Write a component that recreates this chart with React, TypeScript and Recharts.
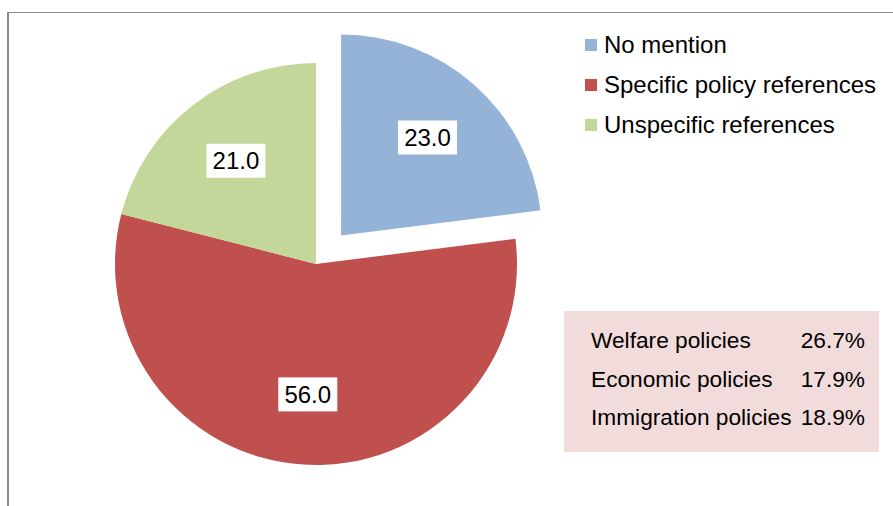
import React from 'react';
import { PieChart, Pie, Cell, Legend } from 'recharts';

const categories = ['No mention', 'Specific policy references', 'Unspecific references'];
const shares = [23.0, 56.0, 21.0];
const colors = ['#95b3d7', '#c0504d', '#c4d79b'];
const explodedIndex = 0;
const policyLabels = ['Welfare policies', 'Economic policies', 'Immigration policies'];
const policyShares = [26.7, 17.9, 18.9];

const data = categories.map((name, i) => ({ name, value: shares[i] }));

const FONT = '"Liberation Sans", Arial, sans-serif';
const CX = 316;
const CY = 264;
const R = 201;
const EXPLODE = 38;
const RAD = Math.PI / 180;

const total = shares.reduce((a, b) => a + b, 0);
const before = shares.slice(0, explodedIndex).reduce((a, b) => a + b, 0);
const explodedMid = 90 - ((before + shares[explodedIndex] / 2) / total) * 360;
const EX = CX + EXPLODE * Math.cos(explodedMid * RAD);
const EY = CY - EXPLODE * Math.sin(explodedMid * RAD);

const makeLabel = (show: (i: number) => boolean) => (props: any) => {
  const { cx, cy, midAngle, outerRadius, value, index } = props;
  if (!show(index)) return null;
  const r = outerRadius * 0.65;
  const x = cx + r * Math.cos(-midAngle * RAD);
  const y = cy + r * Math.sin(-midAngle * RAD);
  return (
    <g>
      <rect x={x - 29.5} y={y - 17} width={59} height={34} fill="#ffffff" />
      <text
        x={x}
        y={y}
        textAnchor="middle"
        dominantBaseline="central"
        fontSize={24}
        fontFamily={FONT}
        fill="#000"
      >
        {Number(value).toFixed(1)}
      </text>
    </g>
  );
};

const LegendContent = () => (
  <div style={{ fontFamily: FONT, fontSize: 24, color: '#000' }}>
    {categories.map((c, i) => (
      <div key={c} style={{ display: 'flex', alignItems: 'center', height: 40 }}>
        <div style={{ width: 12, height: 12, background: colors[i], marginRight: 7 }} />
        <span style={{ lineHeight: '40px', whiteSpace: 'nowrap' }}>{c}</span>
      </div>
    ))}
  </div>
);

export default function App() {
  return (
    <div style={{ position: 'absolute', left: 0, top: 0, width: 893, height: 506, background: '#fff', overflow: 'hidden' }}>
      <div
        style={{
          position: 'absolute',
          left: 7,
          top: 12,
          width: 1000,
          height: 1000,
          borderLeft: '2px solid #8a8a8a',
          borderTop: '1px solid #8a8a8a',
        }}
      />
      <PieChart width={893} height={506} margin={{ top: 0, right: 0, bottom: 0, left: 0 }}>
        <Pie
          data={data}
          dataKey="value"
          nameKey="name"
          cx={CX}
          cy={CY}
          outerRadius={R}
          startAngle={90}
          endAngle={-270}
          stroke="none"
          isAnimationActive={false}
          labelLine={false}
          label={makeLabel((i) => i !== explodedIndex)}
        >
          {data.map((d, i) => (
            <Cell key={d.name} fill={i === explodedIndex ? 'none' : colors[i]} />
          ))}
        </Pie>
        <Pie
          data={data}
          dataKey="value"
          nameKey="name"
          cx={EX}
          cy={EY}
          outerRadius={R}
          startAngle={90}
          endAngle={-270}
          stroke="none"
          isAnimationActive={false}
          labelLine={false}
          label={makeLabel((i) => i === explodedIndex)}
        >
          {data.map((d, i) => (
            <Cell key={d.name} fill={i === explodedIndex ? colors[i] : 'none'} />
          ))}
        </Pie>
        <Legend
          content={<LegendContent />}
          wrapperStyle={{ position: 'absolute', left: 585, top: 25, width: 300 }}
        />
      </PieChart>
      <div
        style={{
          position: 'absolute',
          left: 564,
          top: 311,
          width: 315,
          height: 141,
          background: '#f2dcdb',
          fontFamily: FONT,
          fontSize: 22.7,
          color: '#000',
        }}
      >
        {policyLabels.map((p, i) => (
          <div
            key={p}
            style={{
              position: 'absolute',
              left: 27,
              right: 14,
              top: 10 + i * 38.5,
              height: 38,
              lineHeight: '38px',
              display: 'flex',
              justifyContent: 'space-between',
              whiteSpace: 'nowrap',
            }}
          >
            <span>{p}</span>
            <span>{policyShares[i].toFixed(1)}%</span>
          </div>
        ))}
      </div>
    </div>
  );
}
